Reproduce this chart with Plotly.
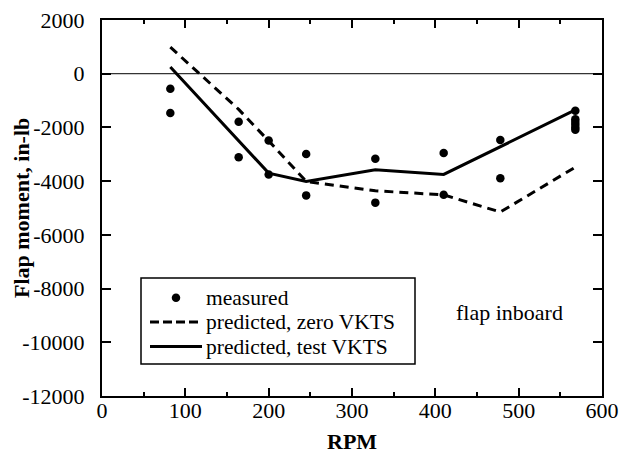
import plotly.graph_objects as go

rpm_measured = [82, 82, 164, 164, 200, 200, 245, 245, 328, 328, 410, 410, 478, 478,
                568, 568, 568, 568, 568, 568]
moment_measured = [-560, -1460, -1790, -3110, -2490, -3750, -2990, -4530, -3170, -4800,
                   -2950, -4510, -2470, -3890, -1380, -1700, -1800, -1900, -2000, -2090]

rpm_pred = [82, 164, 200, 245, 328, 410, 478, 568]
moment_zero_vkts = [990, -1330, -2500, -4010, -4360, -4510, -5150, -3480]
moment_test_vkts = [250, -2480, -3700, -4010, -3580, -3750, -2720, -1350]

x_ticks = [0, 100, 200, 300, 400, 500, 600]
x_ticklabels = ["0", "100", "200", "300", "400", "500", "600"]
y_ticks = [2000, 0, -2000, -4000, -6000, -8000, -10000, -12000]
y_ticklabels = ["2000", "0", "-2000", "-4000", "-6000", "-8000", "-10000", "-12000"]

series_names = ["measured", "predicted, zero VKTS", "predicted, test VKTS"]

FONT = "Liberation Serif"
BLACK = "black"

fig = go.Figure()
fig.add_trace(go.Scatter(x=rpm_measured, y=moment_measured, mode="markers",
                         name=series_names[0], showlegend=False,
                         marker=dict(color=BLACK, size=8.5, symbol="circle")))
fig.add_trace(go.Scatter(x=rpm_pred, y=moment_zero_vkts, mode="lines",
                         name=series_names[1], showlegend=False,
                         line=dict(color=BLACK, width=3, dash="9px,6px")))
fig.add_trace(go.Scatter(x=rpm_pred, y=moment_test_vkts, mode="lines",
                         name=series_names[2], showlegend=False,
                         line=dict(color=BLACK, width=3)))

fig.add_hline(y=0, line=dict(color=BLACK, width=1))

fig.add_annotation(x=489, y=-8900, text="flap inboard", showarrow=False,
                   font=dict(family=FONT, size=22, color=BLACK))

# legend box (drawn in plot-area domain coordinates)
fig.add_shape(type="rect", xref="x domain", yref="y domain",
              x0=0.078, x1=0.626, y0=0.085, y1=0.314,
              line=dict(color=BLACK, width=1.5), fillcolor="white", layer="above")
row_y = [0.2615, 0.1965, 0.1315]
fig.add_shape(type="circle", xref="x domain", yref="y domain",
              x0=0.148 - 0.0085, x1=0.148 + 0.0085,
              y0=row_y[0] - 0.0113, y1=row_y[0] + 0.0113,
              line=dict(color=BLACK, width=0), fillcolor=BLACK, layer="above")
fig.add_shape(type="line", xref="x domain", yref="y domain",
              x0=0.096, x1=0.200, y0=row_y[1], y1=row_y[1],
              line=dict(color=BLACK, width=3, dash="9px,4px"), layer="above")
fig.add_shape(type="line", xref="x domain", yref="y domain",
              x0=0.096, x1=0.200, y0=row_y[2], y1=row_y[2],
              line=dict(color=BLACK, width=3), layer="above")
for name, yy in zip(series_names, row_y):
    fig.add_annotation(xref="x domain", yref="y domain", x=0.205, y=yy,
                       xanchor="left", yanchor="middle", text=name, showarrow=False,
                       borderpad=0, font=dict(family=FONT, size=21.5, color=BLACK))

# axis titles
fig.add_annotation(xref="paper", yref="paper", x=0.5, y=0, yshift=-45,
                   xanchor="center", yanchor="middle", text="<b>RPM</b>", showarrow=False,
                   font=dict(family=FONT, size=22, color=BLACK))
fig.add_annotation(xref="paper", yref="paper", x=0, y=0.5, xshift=-81,
                   xanchor="center", yanchor="middle", textangle=-90,
                   text="<b>Flap moment, in-lb</b>", showarrow=False,
                   font=dict(family=FONT, size=22, color=BLACK))

axis_common = dict(showgrid=False, zeroline=False, showline=True, linecolor=BLACK,
                   linewidth=2, mirror="allticks", ticks="inside", tickcolor=BLACK,
                   tickwidth=1.5, automargin=False,
                   tickfont=dict(family=FONT, size=22, color=BLACK))

fig.update_xaxes(range=[0, 600], tickvals=x_ticks, ticktext=x_ticklabels, ticklen=8,
                 ticklabelstandoff=-6,
                 minor=dict(ticks="inside", dtick=50, ticklen=4, tickcolor=BLACK, tickwidth=1.5),
                 **axis_common)
fig.update_yaxes(range=[-12000, 2000], tickvals=y_ticks, ticktext=y_ticklabels, ticklen=9,
                 ticklabelstandoff=11,
                 **axis_common)

fig.update_layout(
    width=623, height=455,
    margin=dict(l=102, r=21, t=20, b=59),
    plot_bgcolor="white", paper_bgcolor="white",
    font=dict(family=FONT, size=22, color=BLACK),
    showlegend=False,
)

fig.write_html("out.html")
